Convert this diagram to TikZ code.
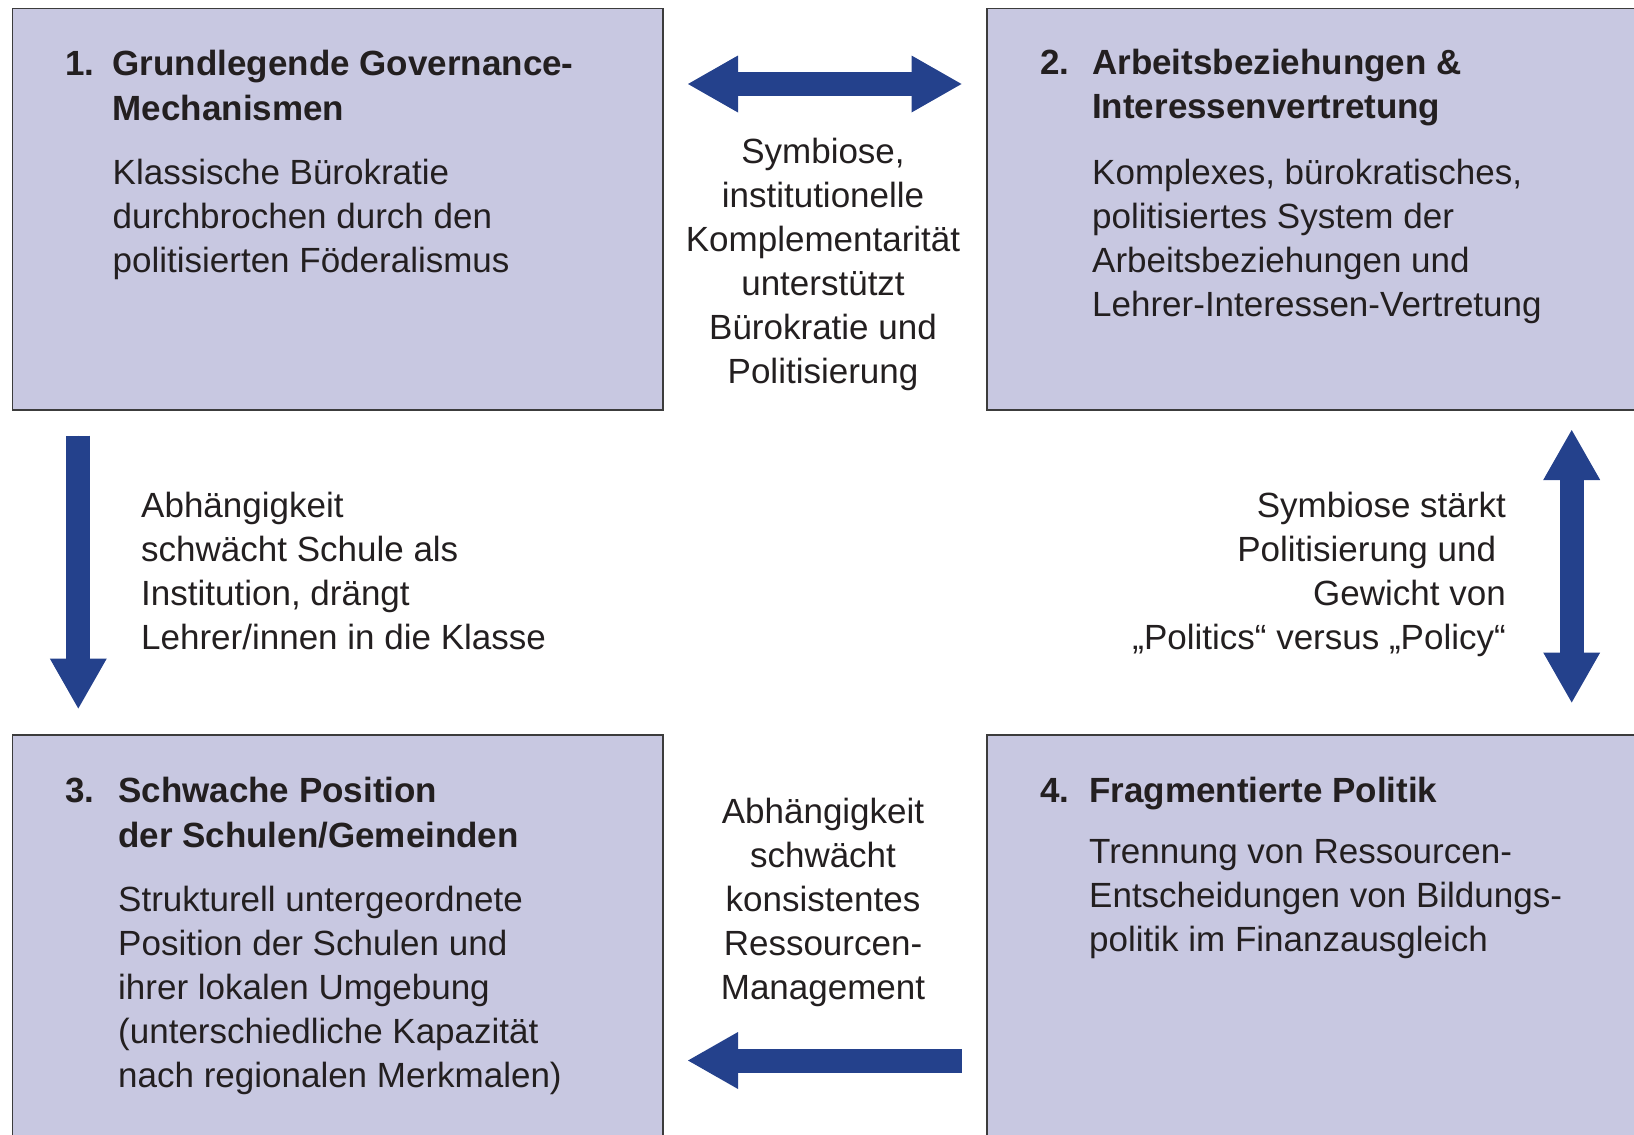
\documentclass[tikz,border=0pt]{standalone}
\usepackage{fontspec}
\setmainfont{Liberation Sans}
\usetikzlibrary{arrows.meta}
\definecolor{boxfill}{RGB}{200,200,225}
\definecolor{boxline}{RGB}{60,60,60}
\definecolor{arrowblue}{RGB}{36,65,140}
\definecolor{txt}{RGB}{35,31,32}
\tikzset{
  box/.style={draw=boxline, line width=1.8pt, fill=boxfill},
  txtblock/.style={inner sep=0pt, text=txt, font=\fontsize{35}{44}\selectfont},
  titleblock/.style={txtblock, font=\fontsize{35}{44.5}\selectfont\bfseries},
  bigtip/.tip={Triangle[length=50pt,width=57pt,line width=0pt]},
  bigarrow/.style={draw=arrowblue, fill=arrowblue, line width=24pt}
}
\begin{document}
\begin{tikzpicture}[x=1pt,y=-1pt]
\useasboundingbox (0,0) rectangle (1634,1135);
% boxes
\path[box] (12.5,8.5) rectangle (663,410) node[coordinate] (box1) {};
\path[box] (987,8.5) rectangle (1640,410) node[coordinate] (box2) {};
\path[box] (12.5,735) rectangle (663,1142) node[coordinate] (box3) {};
\path[box] (987,735) rectangle (1640,1142) node[coordinate] (box4) {};
% box 1
\node[titleblock, anchor=north west] (n1) at (65,44.2) {\strut 1.};
\node[titleblock, anchor=north west, align=left] (t1) at (112.5,44.2) {\strut Grundlegende Governance-\\Mechanismen};
\node[txtblock, anchor=north west, align=left] (b1) at (112.5,153.2) {\strut Klassische Bürokratie\\durchbrochen durch den\\politisierten Föderalismus};
% box 2
\node[titleblock, anchor=north west] (n2) at (1040,43) {\strut 2.};
\node[titleblock, anchor=north west, align=left] (t2) at (1092,43) {\strut Arbeitsbeziehungen \&\\Interessenvertretung};
\node[txtblock, anchor=north west, align=left] (b2) at (1092,153.2) {\strut Komplexes, bürokratisches,\\politisiertes System der\\Arbeitsbeziehungen und\\Lehrer-Interessen-Vertretung};
% box 3
\node[titleblock, anchor=north west] (n3) at (65,771.5) {\strut 3.};
\node[titleblock, anchor=north west, align=left] (t3) at (118,771.5) {\strut Schwache Position\\der Schulen/Gemeinden};
\node[txtblock, anchor=north west, align=left] (b3) at (118,880.5) {\strut Strukturell untergeordnete\\Position der Schulen und\\ihrer lokalen Umgebung\\(unterschiedliche Kapazität\\nach regionalen Merkmalen)};
% box 4
\node[titleblock, anchor=north west] (n4) at (1040,771.5) {\strut 4.};
\node[titleblock, anchor=north west, align=left] (t4) at (1089,771.5) {\strut Fragmentierte Politik};
\node[txtblock, anchor=north west, align=left] (b4) at (1089,832) {\strut Trennung von Ressourcen-\\Entscheidungen von Bildungs-\\politik im Finanzausgleich};
% labels
\node[txtblock, anchor=north, align=center] (l12) at (823,132) {\strut Symbiose,\\institutionelle\\Komplementarität\\unterstützt\\Bürokratie und\\Politisierung};
\node[txtblock, anchor=north west, align=left] (l13) at (141,486) {\strut Abhängigkeit\\schwächt Schule als\\Institution, drängt\\Lehrer/innen in die Klasse};
\node[txtblock, anchor=north east, align=right] (l24) at (1506,486) {\strut Symbiose stärkt\\Politisierung und\hphantom{ }\\Gewicht von\\„Politics“ versus „Policy“};
\node[txtblock, anchor=north, align=center] (l43) at (823,792) {\strut Abhängigkeit\\schwächt\\konsistentes\\Ressourcen-\\Management};
% arrow end points
\coordinate (a12l) at (688,84);
\coordinate (a12r) at (961.5,84);
\coordinate (a13s) at (78.3,435.5);
\coordinate (a13e) at (78.3,708.5);
\coordinate (a24t) at (1571.7,430);
\coordinate (a24b) at (1571.7,702.5);
\coordinate (a43s) at (961.7,1060.5);
\coordinate (a43e) at (688,1060.5);
% arrows
\draw[bigarrow, {bigtip}-{bigtip}] (a12l) -- (a12r);
\draw[bigarrow, -{bigtip}] (a13s) -- (a13e);
\draw[bigarrow, {bigtip}-{bigtip}] (a24t) -- (a24b);
\draw[bigarrow, -{bigtip}] (a43s) -- (a43e);
\end{tikzpicture}
\end{document}
